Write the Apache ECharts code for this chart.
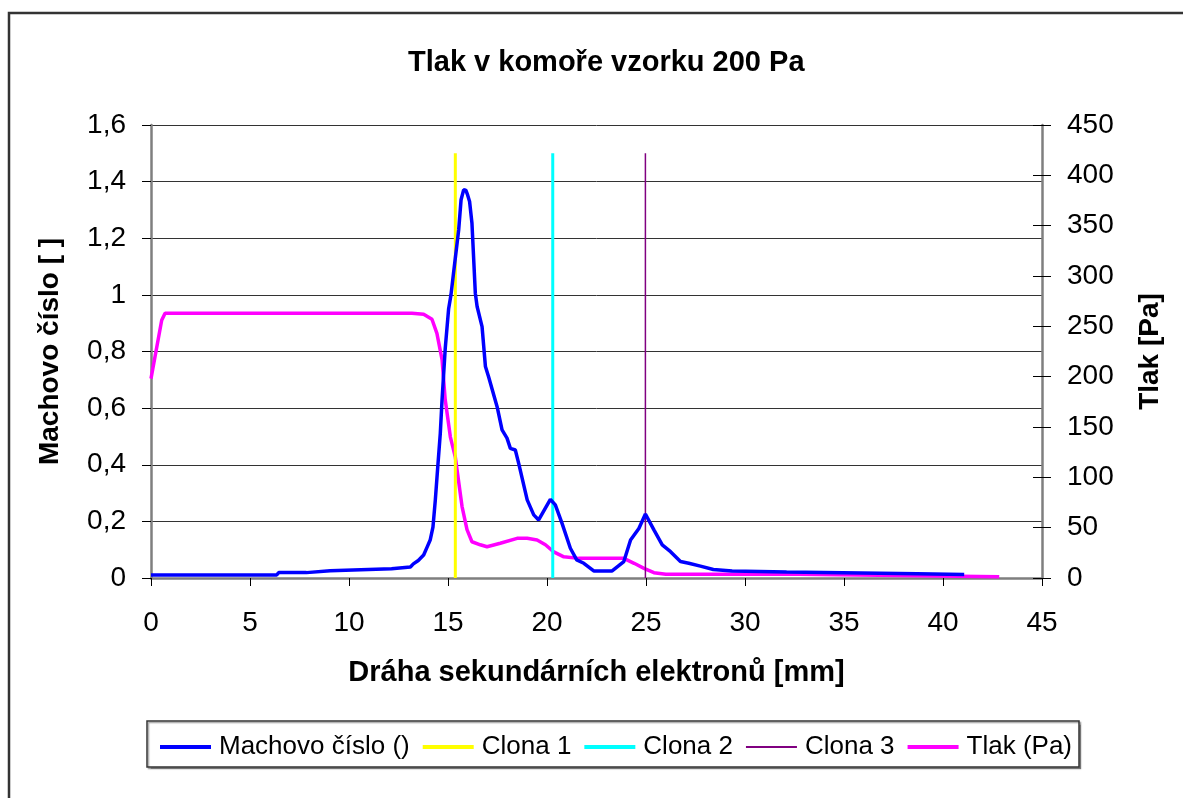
<!DOCTYPE html>
<html>
<head>
<meta charset="utf-8">
<script src="https://cdn.jsdelivr.net/npm/echarts@6/dist/echarts.min.js"></script>
<style>
html,body{margin:0;padding:0;background:#fff;}
#chart{width:1183px;height:798px;}
</style>
</head>
<body>
<div id="chart"></div>
<script>
// ---- data ----
var machX = [0,6.35,6.45,7.85,7.95,9.05,9.15,12.15,12.25,13.1,13.25,13.5,13.77,13.95,14.1,14.24,14.36,14.48,14.61,14.7,14.86,15.03,15.15,15.28,15.54,15.66,15.79,15.9,15.99,16.09,16.21,16.38,16.47,16.72,16.89,17.05,17.48,17.73,17.98,18.15,18.4,18.57,19.0,19.33,19.58,20.17,20.42,20.76,21.18,21.5,21.86,22.36,23.29,23.88,24.22,24.64,24.97,25.4,25.82,26.24,26.74,27.16,27.75,28.4,29.35,32.1,38.7,41.07];
var machY = [0.011,0.011,0.019,0.019,0.026,0.026,0.033,0.033,0.039,0.039,0.05,0.062,0.081,0.11,0.134,0.18,0.276,0.39,0.51,0.63,0.81,0.95,1.0,1.077,1.23,1.336,1.371,1.37,1.353,1.33,1.253,1.006,0.959,0.888,0.747,0.711,0.605,0.523,0.494,0.458,0.452,0.405,0.276,0.223,0.205,0.278,0.258,0.193,0.105,0.064,0.052,0.025,0.025,0.058,0.134,0.175,0.226,0.17,0.117,0.093,0.058,0.052,0.042,0.03,0.025,0.021,0.015,0.012];
var tlakX = [0,0.54,0.71,13.18,13.77,14.19,14.44,14.7,14.86,15.12,15.37,15.71,15.96,16.21,16.63,16.97,17.64,18.49,19.0,19.5,19.92,20.34,20.85,21.6,23.88,24.4,24.9,25.4,26.0,32.7,32.8,42.84];
var tlakY = [198,256,263,263,262,257,243,217,177,140,120,71,48,36,33,31,34.5,39.4,39.4,37.7,33,26,21,19.5,19.5,14.6,9.6,5.3,3.7,3.7,2.3,1.3];
var clonaNames = ['Clona 1','Clona 2','Clona 3'];
var clonaX = [15.37, 20.29, 24.97];
var clonaTop = 1.5;
var seriesNames = ['Machovo číslo ()','Clona 1','Clona 2','Clona 3','Tlak (Pa)'];
var titleText = 'Tlak v komoře vzorku 200 Pa';
var xTitle = 'Dráha sekundárních elektronů [mm]';
var yTitleLeft = 'Machovo číslo [ ]';
var yTitleRight = 'Tlak [Pa]';

function zip(a,b){var r=[];for(var i=0;i<a.length;i++)r.push([a[i],b[i]]);return r;}
var FONT = '"Liberation Sans", Arial, sans-serif';
var clonaColors = ['#FFFF00','#00FFFF','#800080'];
var clonaWidths = [3,3,1.5];

var series = [{
  name: seriesNames[0], type:'line', yAxisIndex:0, data: zip(machX, machY),
  symbol:'none', lineStyle:{color:'#0000FF', width:3.5}, itemStyle:{color:'#0000FF'}, z:5
}];
for (var i=0;i<3;i++){
  series.push({
    name: clonaNames[i], type:'line', yAxisIndex:0,
    data: [[clonaX[i],0],[clonaX[i],clonaTop]],
    symbol:'none', lineStyle:{color:clonaColors[i], width:clonaWidths[i]}, itemStyle:{color:clonaColors[i]}, z:4
  });
}
series.push({
  name: seriesNames[4], type:'line', yAxisIndex:1, data: zip(tlakX, tlakY),
  symbol:'none', lineStyle:{color:'#FF00FF', width:3.5}, itemStyle:{color:'#FF00FF'}, z:3
});

function fmtComma(v){
  if (Math.abs(v - Math.round(v)) < 1e-9) return String(Math.round(v));
  return v.toFixed(1).replace('.', ',');
}

var legendColors = ['#0000FF','#FFFF00','#00FFFF','#800080','#FF00FF'];
var legendData = seriesNames.map(function(n, k){
  return {name:n, icon: k === 3 ? 'path://M0,0H51V2H0Z' : 'rect', itemStyle:{color:legendColors[k]}};
});

var chart = echarts.init(document.getElementById('chart'), null, {renderer:'canvas'});
chart.setOption({
  animation:false,
  backgroundColor:'#ffffff',
  textStyle:{fontFamily:FONT},
  title:{
    text:titleText, left:403, top:43,
    textStyle:{fontFamily:FONT, fontSize:29, fontWeight:'bold', color:'#000'}
  },
  grid:{left:151, right:141, top:125, bottom:220, containLabel:false},
  legend:{
    data: legendData, left:155, top:729, itemWidth:51, itemHeight:4, itemGap:13,
    textStyle:{fontFamily:FONT, fontSize:26, color:'#000', padding:[0,0,0,3]}
  },
  graphic:[
    {type:'rect', shape:{x:9,y:13,width:1250,height:850}, style:{fill:null, stroke:'#333', lineWidth:2.5}, silent:true, z:-10},
    {type:'rect', shape:{x:147,y:721,width:932,height:46}, style:{fill:'#fff', stroke:'#333', lineWidth:1.5, shadowColor:'rgba(0,0,0,0.35)', shadowOffsetX:1.5, shadowOffsetY:1.5, shadowBlur:1}, silent:true, z:-5}
  ],
  xAxis:{
    type:'value', min:0, max:45, interval:5,
    name:xTitle, nameLocation:'middle', nameGap:80,
    nameTextStyle:{fontFamily:FONT, fontSize:29, fontWeight:'bold', color:'#000'},
    axisLine:{show:true, onZero:false, lineStyle:{color:'#7f7f7f', width:2.5}},
    axisTick:{show:true, inside:false, length:8, lineStyle:{color:'#000', width:1}},
    axisLabel:{fontFamily:FONT, fontSize:28, color:'#000', margin:31},
    splitLine:{show:false}
  },
  yAxis:[{
    type:'value', min:0, max:1.6, interval:0.2, position:'left',
    name:yTitleLeft, nameLocation:'middle', nameGap:87, nameRotate:90,
    nameTextStyle:{fontFamily:FONT, fontSize:28, fontWeight:'bold', color:'#000'},
    axisLine:{show:true, lineStyle:{color:'#7f7f7f', width:2.5}},
    axisTick:{show:true, inside:false, length:9, lineStyle:{color:'#000', width:1}},
    axisLabel:{fontFamily:FONT, fontSize:28, color:'#000', margin:25, formatter:fmtComma},
    splitLine:{show:true, lineStyle:{color:'#333', width:1}}
  },{
    type:'value', min:0, max:450, interval:50, position:'right',
    name:yTitleRight, nameLocation:'middle', nameGap:94, nameRotate:90,
    nameTextStyle:{fontFamily:FONT, fontSize:28, fontWeight:'bold', color:'#000'},
    axisLine:{show:true, lineStyle:{color:'#7f7f7f', width:2.5}},
    axisTick:{show:true, inside:false, length:9, lineStyle:{color:'#000', width:1}},
    axisLabel:{fontFamily:FONT, fontSize:28, color:'#000', margin:25},
    splitLine:{show:false}
  },{
    type:'value', min:0, max:450, interval:50, position:'right',
    axisLine:{show:false},
    axisTick:{show:true, inside:true, length:9, lineStyle:{color:'#000', width:1}},
    axisLabel:{show:false},
    splitLine:{show:false}
  }],
  series: series
});
</script>
</body>
</html>
